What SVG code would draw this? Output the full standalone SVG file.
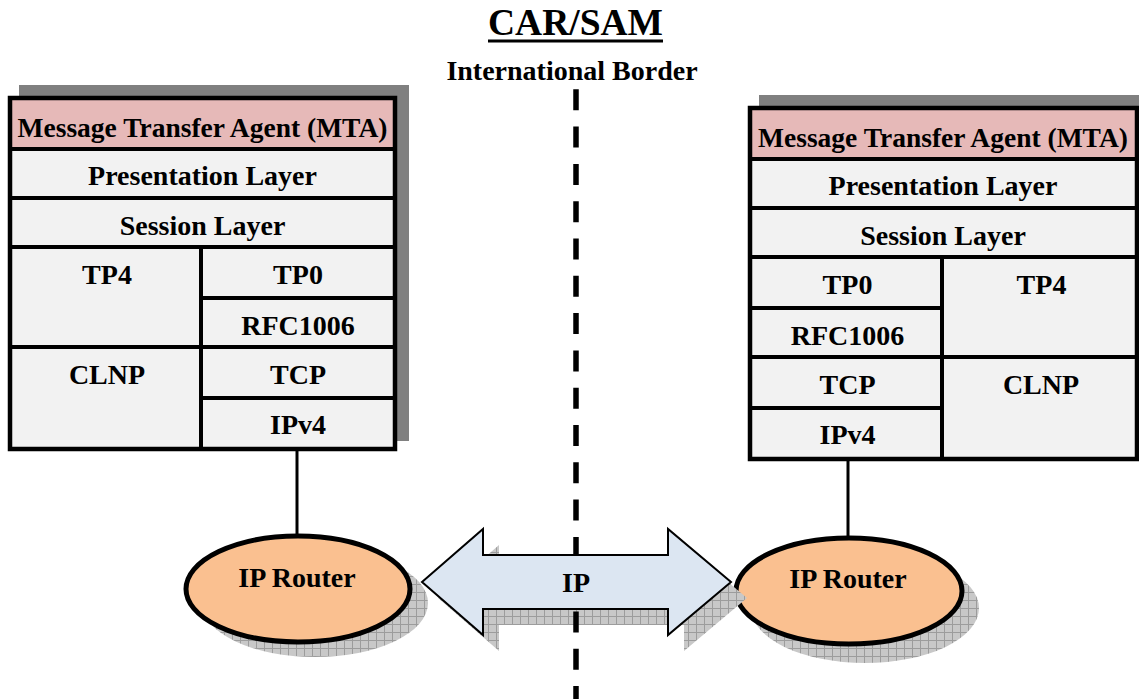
<svg xmlns="http://www.w3.org/2000/svg" width="1139" height="699" viewBox="0 0 1139 699">
  <style>
    text { font-family: "Liberation Serif", "Times New Roman", serif; font-weight: bold; fill: #000; text-anchor: middle; }
    .t { font-size: 28px; }
    .mta-t { font-size: 27.5px; }
    .frame { fill: none; stroke: #000; stroke-width: 4.5; }
    .cell { fill: #f2f2f2; stroke: #000; stroke-width: 4; }
    .mta { fill: #e6b9b8; stroke: #000; stroke-width: 4; }
    .boxshadow { fill: #808080; }
    .router { fill: #fac090; stroke: #000; stroke-width: 5; }
    .hatch { fill: url(#grid); }
    .link { stroke: #000; stroke-width: 3; fill: none; }
  </style>
  <defs>
    <pattern id="grid" width="8" height="8" patternUnits="userSpaceOnUse">
      <rect width="8" height="8" fill="#c8c8c8"/>
      <path d="M0 0.5H8M0.5 0V8" stroke="#9c9c9c" stroke-width="1"/>
    </pattern>
  </defs>
  <rect width="1139" height="699" fill="#fff"/>

  <g id="title">
    <text x="575.5" y="35" style="font-size:37.5px">CAR/SAM</text>
    <line x1="488" y1="41" x2="663" y2="41" stroke="#000" stroke-width="3"/>
    <text class="t" x="572" y="80">International Border</text>
  </g>

  <g id="stack-left">
    <rect class="boxshadow" x="19" y="85" width="390" height="356"/>
    <rect class="mta" x="10" y="98" width="385" height="51"/>
    <rect class="cell" x="10" y="149" width="385" height="49"/>
    <rect class="cell" x="10" y="198" width="385" height="49"/>
    <rect class="cell" x="10" y="247" width="191" height="100"/>
    <rect class="cell" x="201" y="247" width="194" height="51"/>
    <rect class="cell" x="201" y="298" width="194" height="49"/>
    <rect class="cell" x="10" y="347" width="191" height="102"/>
    <rect class="cell" x="201" y="347" width="194" height="51"/>
    <rect class="cell" x="201" y="398" width="194" height="51"/>
    <rect class="frame" x="10" y="98" width="385" height="351"/>
    <text class="mta-t" x="202.5" y="137">Message Transfer Agent (MTA)</text>
    <text class="t" x="202.5" y="185">Presentation Layer</text>
    <text class="t" x="202.5" y="235">Session Layer</text>
    <text class="t" x="107" y="284">TP4</text>
    <text class="t" x="298" y="284">TP0</text>
    <text class="t" x="298" y="335">RFC1006</text>
    <text class="t" x="107" y="384">CLNP</text>
    <text class="t" x="298" y="384">TCP</text>
    <text class="t" x="298" y="434">IPv4</text>
  </g>

  <g id="stack-right">
    <rect class="boxshadow" x="759" y="95" width="390" height="356"/>
    <rect class="mta" x="750" y="108" width="387" height="51"/>
    <rect class="cell" x="750" y="159" width="387" height="49"/>
    <rect class="cell" x="750" y="208" width="387" height="49"/>
    <rect class="cell" x="750" y="257" width="192" height="51"/>
    <rect class="cell" x="750" y="308" width="192" height="49"/>
    <rect class="cell" x="942" y="257" width="195" height="100"/>
    <rect class="cell" x="750" y="357" width="192" height="51"/>
    <rect class="cell" x="750" y="408" width="192" height="51"/>
    <rect class="cell" x="942" y="357" width="195" height="102"/>
    <rect class="frame" x="750" y="108" width="387" height="351"/>
    <text class="mta-t" x="943" y="147">Message Transfer Agent (MTA)</text>
    <text class="t" x="943" y="195">Presentation Layer</text>
    <text class="t" x="943" y="245">Session Layer</text>
    <text class="t" x="847.5" y="294">TP0</text>
    <text class="t" x="1041.5" y="294">TP4</text>
    <text class="t" x="847.5" y="345">RFC1006</text>
    <text class="t" x="847.5" y="394">TCP</text>
    <text class="t" x="1041" y="394">CLNP</text>
    <text class="t" x="847.5" y="444">IPv4</text>
  </g>

  <g id="connectors">
    <line class="link" x1="297" y1="451" x2="297" y2="537"/>
    <line class="link" x1="848" y1="461" x2="848" y2="539"/>
  </g>

  <g id="router-left">
    <ellipse class="hatch" cx="315" cy="603" rx="113" ry="54"/>
    <ellipse class="router" cx="298" cy="589" rx="112" ry="53"/>
    <text class="t" x="297" y="587">IP Router</text>
  </g>

  <g id="router-right">
    <ellipse class="hatch" cx="865" cy="608" rx="114" ry="55"/>
    <ellipse class="router" cx="849" cy="591" rx="113" ry="53"/>
    <text class="t" x="848" y="588">IP Router</text>
  </g>

  <g id="ip-link">
    <polygon class="hatch" points="438,598 499,545 499,571 684,571 684,545 747,598 684,651 684,625 499,625 499,651"/>
    <line x1="576" y1="89.3" x2="576" y2="699" stroke="#000" stroke-width="5.5" stroke-dasharray="21 16.3"/>
    <polygon points="422,582 483,529 483,555 668,555 668,529 731,582 668,635 668,609 483,609 483,635" fill="#dce6f2" stroke="#000" stroke-width="2"/>
    <text class="t" x="576" y="592">IP</text>
  </g>
</svg>
